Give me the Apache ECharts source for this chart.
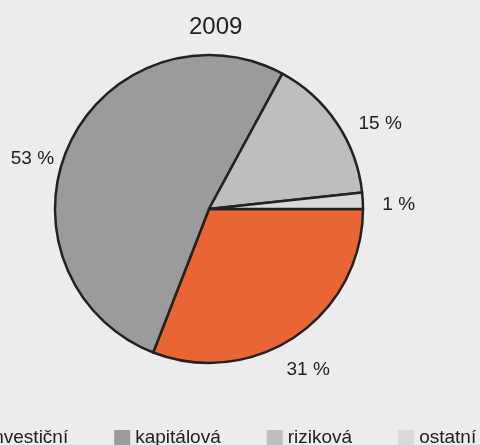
<!DOCTYPE html>
<html>
<head>
<meta charset="utf-8">
<script src="https://cdn.jsdelivr.net/npm/echarts@6/dist/echarts.min.js"></script>
<style>
  html, body { margin: 0; padding: 0; background: #ebeceb; }
  #chart { width: 480px; height: 445px; }
</style>
</head>
<body>
<div id="chart"></div>
<script>
var year = '2009'
var categories = ['investiční', 'kapitálová', 'riziková', 'ostatní']
var shares = [30.9, 52.0, 15.4, 1.7]
var shareLabels = ['31 %', '53 %', '15 %', '1 %']
var colors = ['#e96534', '#9b9b9b', '#bdbebf', '#d8d9da']

var font = 'Liberation Sans, Arial, sans-serif'
var cx = 209, cy = 209, r = 154
var labelRadius = 188
// labely jsou v originale rucne posunute
var labelNudge = [[-7, 6], [-6, 29], [15, 19], [2, 6]]

var total = shares.reduce(function (a, b) { return a + b }, 0)
function midAngle(i) {
  var before = 0
  for (var k = 0; k < i; k++) before += shares[k]
  return (before + shares[i] / 2) / total * Math.PI * 2
}

var chart = echarts.init(document.getElementById('chart'))
var option = {
  backgroundColor: '#ebeceb',
  animation: false,
  color: colors,
  title: {
    text: year,
    left: 189,
    top: 15,
    padding: 0,
    textStyle: { fontFamily: font, fontSize: 24, fontWeight: 'normal', color: '#222' }
  },
  legend: {
    data: categories,
    orient: 'horizontal',
    left: -32,
    top: 428,
    width: 620,
    padding: 0,
    itemGap: 46,
    itemWidth: 16,
    itemHeight: 15,
    icon: 'rect',
    selectedMode: false,
    itemStyle: { borderWidth: 0 },
    textStyle: { fontFamily: font, fontSize: 19, color: '#222' }
  },
  series: [
    {
      type: 'pie',
      center: [cx, cy],
      radius: r,
      startAngle: 0,
      clockwise: true,
      silent: true,
      avoidLabelOverlap: false,
      itemStyle: { borderColor: '#222', borderWidth: 2.5 },
      label: {
        show: true,
        position: 'outside',
        fontFamily: font,
        fontSize: 19,
        color: '#222',
        formatter: function (p) { return shareLabels[p.dataIndex] }
      },
      labelLine: { show: false },
      labelLayout: function (p) {
        var a = midAngle(p.dataIndex)
        var n = labelNudge[p.dataIndex]
        return {
          x: cx + labelRadius * Math.cos(a) + n[0],
          y: cy + labelRadius * Math.sin(a) + n[1],
          align: 'center',
          verticalAlign: 'middle'
        }
      },
      emphasis: { disabled: true },
      data: categories.map(function (name, i) {
        return { name: name, value: shares[i] }
      })
    }
  ]
}
option && chart.setOption(option)
</script>
</body>
</html>
